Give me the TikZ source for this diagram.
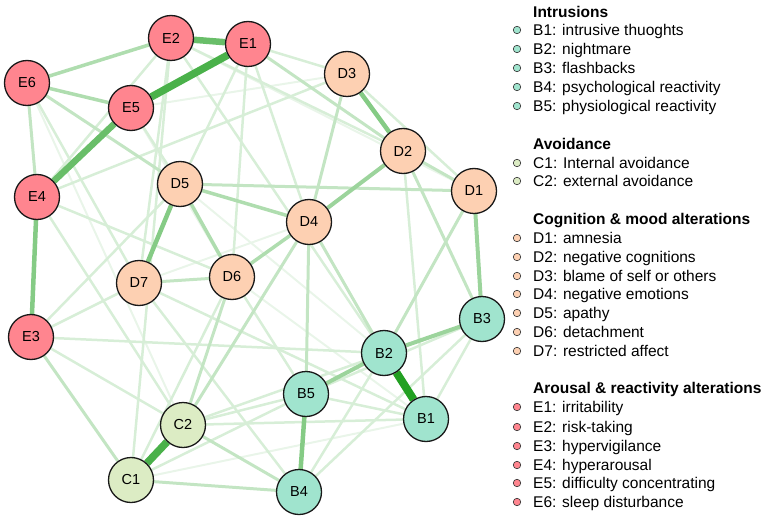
\documentclass[tikz,border=0pt]{standalone}
\usepackage{fontspec}
\setmainfont{Liberation Sans}
\usetikzlibrary{backgrounds}

\definecolor{ptsdArousal}{RGB}{255,133,143}
\definecolor{ptsdMood}{RGB}{253,208,178}
\definecolor{ptsdIntrus}{RGB}{160,228,206}
\definecolor{ptsdAvoid}{RGB}{220,236,196}
\definecolor{netGreen}{RGB}{34,160,34}

\begin{document}
\begin{tikzpicture}[x=1pt, y=-1pt,
  sym/.style={circle, draw=black!90, line width=1.3pt, minimum size=45pt,
              inner sep=0pt, font=\fontsize{14.5}{16}\selectfont},
  symE/.style={sym, fill=ptsdArousal},
  symD/.style={sym, fill=ptsdMood},
  symB/.style={sym, fill=ptsdIntrus},
  symC/.style={sym, fill=ptsdAvoid},
  wTop/.style={draw=netGreen, line width=8pt},
  wA/.style={draw=netGreen!82, line width=7.5pt},
  wB/.style={draw=netGreen!68, line width=6.5pt},
  wC/.style={draw=netGreen!55, line width=4.5pt},
  wD/.style={draw=netGreen!45, line width=4pt},
  wE/.style={draw=netGreen!36, line width=3.5pt},
  wF/.style={draw=netGreen!27, line width=3pt},
  wG/.style={draw=netGreen!18, line width=2.5pt},
  wH/.style={draw=netGreen!10, line width=2pt},
  keydot/.style={circle, draw=black!80, line width=0.6pt, minimum size=7.5pt, inner sep=0pt},
  keytext/.style={anchor=base west, inner sep=0pt, yshift=-5.5pt,
                  font=\fontsize{15.5}{17}\selectfont},
  keyhead/.style={keytext, font=\fontsize{15.5}{17}\selectfont\bfseries}]
\useasboundingbox (0,0) rectangle (767,521);

%% symptom nodes
\node[symE] (E1) at (248,44) {E1};
\node[symE] (E2) at (171,38) {E2};
\node[symE] (E3) at (31,337) {E3};
\node[symE] (E4) at (37,197) {E4};
\node[symE] (E5) at (131,108) {E5};
\node[symE] (E6) at (27,83) {E6};
\node[symD] (D1) at (474,191) {D1};
\node[symD] (D2) at (403,151) {D2};
\node[symD] (D3) at (347,74) {D3};
\node[symD] (D4) at (309,222) {D4};
\node[symD] (D5) at (180,184) {D5};
\node[symD] (D6) at (232,277) {D6};
\node[symD] (D7) at (139,283) {D7};
\node[symB] (B1) at (426,419) {B1};
\node[symB] (B2) at (384,353) {B2};
\node[symB] (B3) at (482,319) {B3};
\node[symB] (B4) at (299,492) {B4};
\node[symB] (B5) at (306,394) {B5};
\node[symC] (C1) at (131,480) {C1};
\node[symC] (C2) at (183,425) {C2};

%% partial correlations
\begin{scope}[on background layer]
  % very weak
  \draw[wH] (E5) -- (D3);
  \draw[wH] (E6) -- (C2);
  \draw[wH] (D7) -- (D4);
  \draw[wH] (D5) -- (B2);
  \draw[wH] (E5) -- (D6);
  \draw[wH] (C1) -- (B1);
  \draw[wH] (D6) -- (B1);
  \draw[wH] (E2) -- (D1);
  % weak
  \draw[wG] (E2) -- (E4);
  \draw[wG] (E1) -- (D3);
  \draw[wG] (E1) -- (D5);
  \draw[wG] (E1) -- (D6);
  \draw[wG] (E1) -- (D4);
  \draw[wG] (E2) -- (B2);
  \draw[wG] (E2) -- (D7);
  \draw[wG] (E2) -- (C1);
  \draw[wG] (E2) -- (D2);
  \draw[wG] (E3) -- (D7);
  \draw[wG] (E3) -- (D5);
  \draw[wG] (E3) -- (B2);
  \draw[wG] (E3) -- (C2);
  \draw[wG] (E4) -- (C2);
  \draw[wG] (E4) -- (D6);
  \draw[wG] (E4) -- (D3);
  \draw[wG] (E6) -- (D7);
  \draw[wG] (E5) -- (D5);
  \draw[wG] (C1) -- (D6);
  \draw[wG] (C1) -- (B5);
  \draw[wG] (C2) -- (B5);
  \draw[wG] (C2) -- (B1);
  \draw[wG] (C2) -- (B3);
  \draw[wG] (D7) -- (B4);
  \draw[wG] (D7) -- (B1);
  \draw[wG] (D6) -- (B5);
  \draw[wG] (B4) -- (B2);
  \draw[wG] (B4) -- (B3);
  \draw[wG] (B3) -- (B1);
  \draw[wG] (B5) -- (B3);
  \draw[wG] (B5) -- (B1);
  \draw[wG] (D2) -- (B1);
  \draw[wG] (D3) -- (D1);
  % moderate
  \draw[wF] (E6) -- (D5);
  \draw[wF] (E6) -- (E4);
  \draw[wF] (D7) -- (D6);
  \draw[wF] (E1) -- (D2);
  \draw[wF] (D5) -- (D1);
  \draw[wF] (D3) -- (D4);
  \draw[wF] (D4) -- (C2);
  \draw[wF] (D4) -- (B5);
  \draw[wF] (D1) -- (B2);
  \draw[wF] (C1) -- (B4);
  \draw[wF] (E3) -- (C1);
  \draw[wF] (D2) -- (D1);
  \draw[wF] (D6) -- (C2);
  \draw[wF] (C2) -- (B4);
  \draw[wF] (D4) -- (B2);
  \draw[wF] (D2) -- (B3);
  % clear
  \draw[wE] (D5) -- (D4);
  \draw[wE] (D5) -- (D6);
  \draw[wE] (D6) -- (D4);
  \draw[wE] (E6) -- (E2);
  \draw[wE] (E6) -- (E5);
  \draw[wD] (D1) -- (B3);
  \draw[wD] (B2) -- (B3);
  \draw[wD] (B2) -- (B5);
  \draw[wD] (D2) -- (D4);
  % strong
  \draw[wC] (D3) -- (D2);
  \draw[wC] (E4) -- (E3);
  \draw[wC] (D5) -- (D7);
  \draw[wC] (B5) -- (B4);
  \draw[wB] (E1) -- (E2);
  \draw[wB] (E5) -- (E4);
  \draw[wA] (E1) -- (E5);
  \draw[wA] (C1) -- (C2);
  \draw[wTop] (B2) -- (B1);
\end{scope}

%% legend
\node[keyhead] (hB) at (533,12) {Intrusions};
\node[keydot, fill=ptsdIntrus] (kB1) at (517,30) {};
\node[keytext] at (533,30) {B1: intrusive thuoghts};
\node[keydot, fill=ptsdIntrus] (kB2) at (517,49) {};
\node[keytext] at (533,49) {B2: nightmare};
\node[keydot, fill=ptsdIntrus] (kB3) at (517,68) {};
\node[keytext] at (533,68) {B3: flashbacks};
\node[keydot, fill=ptsdIntrus] (kB4) at (517,87) {};
\node[keytext] at (533,87) {B4: psychological reactivity};
\node[keydot, fill=ptsdIntrus] (kB5) at (517,106) {};
\node[keytext] at (533,106) {B5: physiological reactivity};

\node[keyhead] (hC) at (533,144) {Avoidance};
\node[keydot, fill=ptsdAvoid] (kC1) at (517,163) {};
\node[keytext] at (533,163) {C1: Internal avoidance};
\node[keydot, fill=ptsdAvoid] (kC2) at (517,181) {};
\node[keytext] at (533,181) {C2: external avoidance};

\node[keyhead] (hD) at (533,219) {Cognition \& mood alterations};
\node[keydot, fill=ptsdMood] (kD1) at (517,238) {};
\node[keytext] at (533,238) {D1: amnesia};
\node[keydot, fill=ptsdMood] (kD2) at (517,257) {};
\node[keytext] at (533,257) {D2: negative cognitions};
\node[keydot, fill=ptsdMood] (kD3) at (517,276) {};
\node[keytext] at (533,276) {D3: blame of self or others};
\node[keydot, fill=ptsdMood] (kD4) at (517,294) {};
\node[keytext] at (533,294) {D4: negative emotions};
\node[keydot, fill=ptsdMood] (kD5) at (517,313) {};
\node[keytext] at (533,313) {D5: apathy};
\node[keydot, fill=ptsdMood] (kD6) at (517,332) {};
\node[keytext] at (533,332) {D6: detachment};
\node[keydot, fill=ptsdMood] (kD7) at (517,351) {};
\node[keytext] at (533,351) {D7: restricted affect};

\node[keyhead] (hE) at (533,388) {Arousal \& reactivity alterations};
\node[keydot, fill=ptsdArousal] (kE1) at (517,407) {};
\node[keytext] at (533,407) {E1: irritability};
\node[keydot, fill=ptsdArousal] (kE2) at (517,427) {};
\node[keytext] at (533,427) {E2: risk-taking};
\node[keydot, fill=ptsdArousal] (kE3) at (517,446) {};
\node[keytext] at (533,446) {E3: hypervigilance};
\node[keydot, fill=ptsdArousal] (kE4) at (517,465) {};
\node[keytext] at (533,465) {E4: hyperarousal};
\node[keydot, fill=ptsdArousal] (kE5) at (517,483) {};
\node[keytext] at (533,483) {E5: difficulty concentrating};
\node[keydot, fill=ptsdArousal] (kE6) at (517,502) {};
\node[keytext] at (533,502) {E6: sleep disturbance};
\end{tikzpicture}
\end{document}
